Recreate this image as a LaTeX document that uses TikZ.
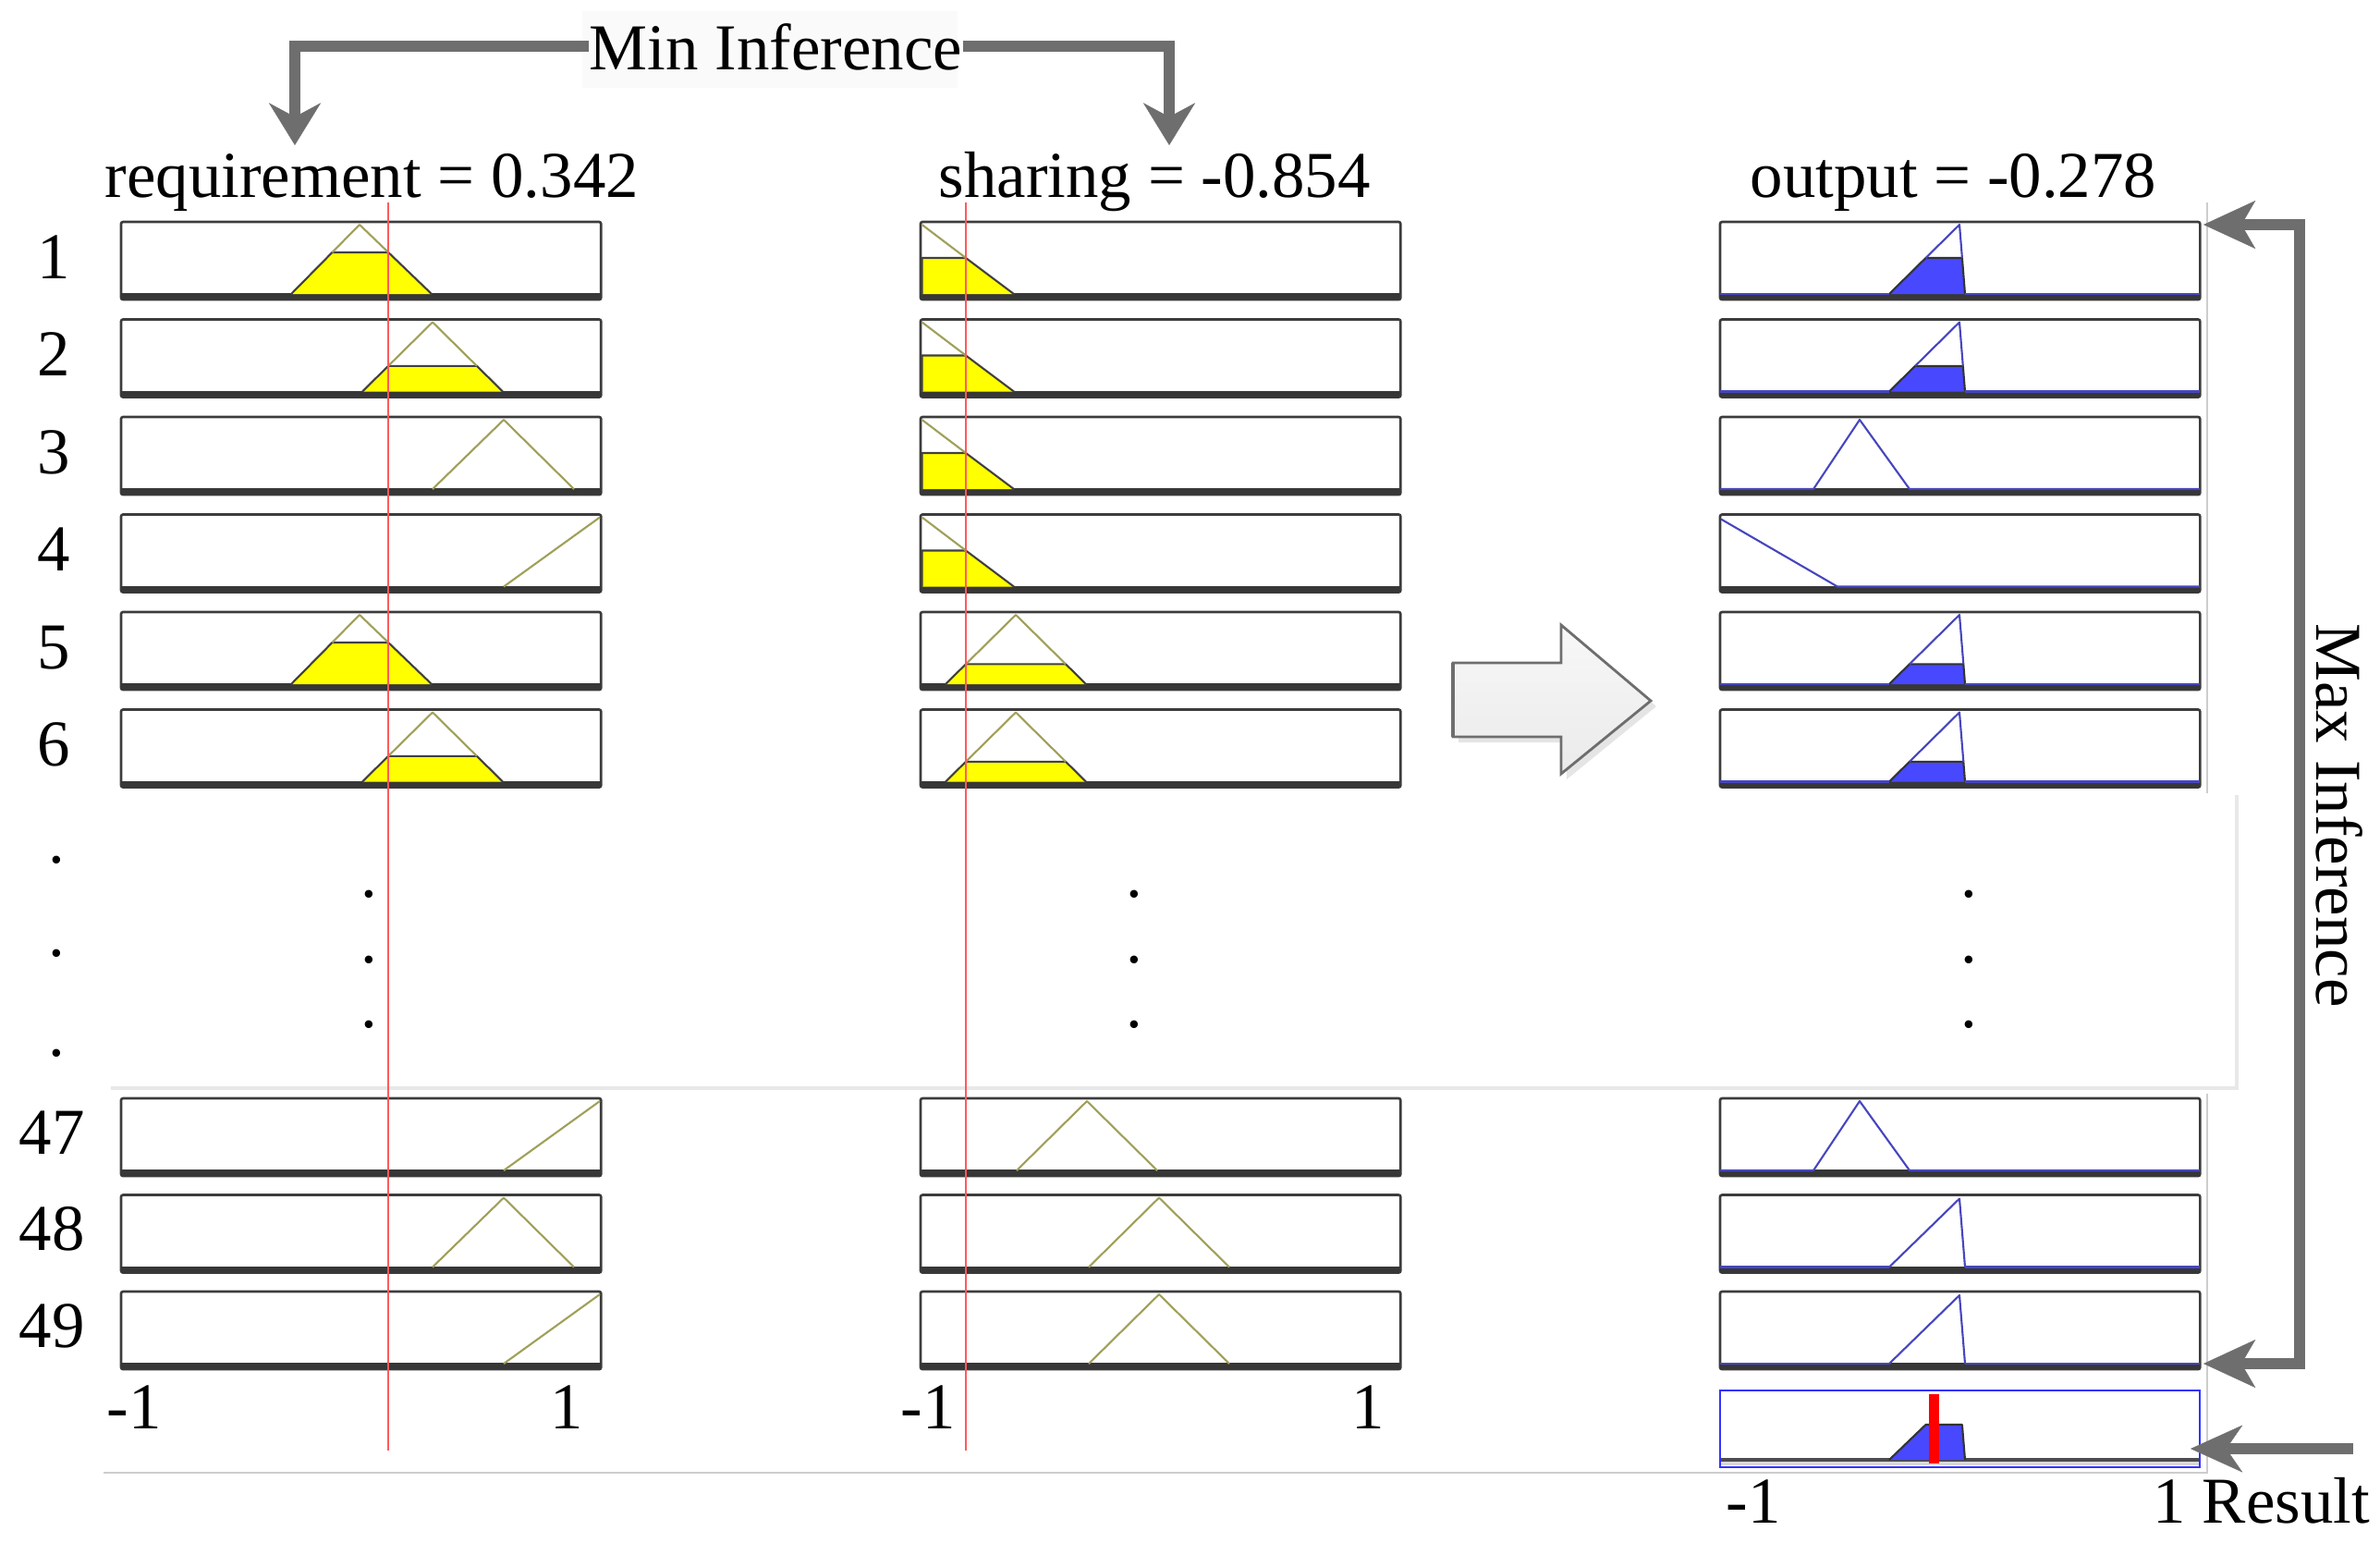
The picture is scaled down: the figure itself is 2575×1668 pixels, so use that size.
\documentclass[tikz,border=0pt]{standalone}
\usepackage{fontspec}
\setmainfont{Liberation Serif}
\usetikzlibrary{arrows.meta}
\definecolor{arrgray}{RGB}{110,110,110}
\definecolor{mfolive}{RGB}{160,160,90}
\definecolor{mfblue}{RGB}{70,70,190}
\definecolor{fillblue}{RGB}{72,72,255}
\definecolor{fillyellow}{RGB}{255,255,0}
\definecolor{redln}{RGB}{255,90,90}
\definecolor{panelgray}{RGB}{60,60,60}
\definecolor{barcol}{RGB}{55,55,55}
\definecolor{framegray}{RGB}{205,205,205}
\definecolor{framelight}{RGB}{232,232,232}
\definecolor{resblue}{RGB}{50,50,255}
\definecolor{faintbg}{RGB}{250,250,250}
\newcommand{\mfpanel}[3]{%
  \node[panel, anchor=north west] (#1) at (#2,#3) {};
  \fill[barcol] (#2,#3+77) rectangle (#2+519,#3+84);
}
\begin{document}
\begin{tikzpicture}[x=0.01cm,y=-0.01cm,
  lbl/.style={font=\fontsize{20.15}{24}\selectfont, inner sep=0pt, text=black},
  panel/.style={draw=panelgray, line width=0.75pt, fill=white, rounded corners=0.6pt,
    minimum width=5.19cm, minimum height=0.84cm, inner sep=0pt, outer sep=0pt},
  respanel/.style={draw=resblue, line width=0.6pt, fill=white,
    minimum width=5.19cm, minimum height=0.83cm, inner sep=0pt, outer sep=0pt},
  yfill/.style={fill=fillyellow, draw=black!75, line width=0.6pt, line join=round},
  bfill/.style={fill=fillblue, draw=black!80, line width=0.6pt, line join=round},
  oline/.style={draw=mfolive, line width=0.6pt, line join=round},
  bline/.style={draw=mfblue, line width=0.6pt, line join=round},
  redline/.style={draw=redln, line width=0.55pt},
  minarrow/.style={draw=arrgray, line width=3.4pt,
    -{Stealth[length=13pt,width=16pt,inset=4.3pt,line width=0.1pt]}},
  maxarrow/.style={draw=arrgray, line width=3.4pt,
    {Stealth[length=16pt,width=14.8pt,inset=4.3pt,line width=0.1pt]}-{Stealth[length=16pt,width=14.8pt,inset=4.3pt,line width=0.1pt]}},
  resarrow/.style={draw=arrgray, line width=3.4pt,
    -{Stealth[length=16pt,width=14.5pt,inset=5pt,line width=0.1pt]}},
  frame/.style={draw=framegray, line width=0.5pt},
  framethick/.style={draw=framelight, line width=1.4pt}
]
\useasboundingbox (0,0) rectangle (2575,1668);
\fill[white] (0,0) rectangle (2575,1668);

% light frame lines
\draw[frame] (2388,219) -- (2388,858);
\draw[framethick] (2420,860) -- (2420,1177) -- (120,1177);
\draw[frame] (2388,1183) -- (2388,1593) -- (112,1593);

% titles
\fill[faintbg] (630,12) rectangle (1036,95);
\node[lbl, anchor=base west] (mininf) at (637,75) {Min Inference};
\node[lbl, anchor=base west] (req) at (113,213) {requirement = 0.342};
\node[lbl, anchor=base west] (shr) at (1015,213) {sharing = -0.854};
\node[lbl, anchor=base west] (outl) at (1893,213) {output = -0.278};
\node[lbl, rotate=-90] (maxinf) at (2531,882) {Max Inference};

% row labels
\node[lbl, anchor=base] (n1) at (58,301) {1};
\node[lbl, anchor=base] (n2) at (58,406.5) {2};
\node[lbl, anchor=base] (n3) at (58,512) {3};
\node[lbl, anchor=base] (n4) at (58,617.5) {4};
\node[lbl, anchor=base] (n5) at (58,723) {5};
\node[lbl, anchor=base] (n6) at (58,828.5) {6};
\node[lbl, anchor=base] (n47) at (56,1248) {47};
\node[lbl, anchor=base] (n48) at (56,1352.5) {48};
\node[lbl, anchor=base] (n49) at (56,1457) {49};

% dots
\node[lbl, anchor=base] (dl1) at (61,933) {.};
\node[lbl, anchor=base] (dl2) at (61,1034) {.};
\node[lbl, anchor=base] (dl3) at (61,1142) {.};
\node[lbl, anchor=base] (da1) at (399,970) {.};
\node[lbl, anchor=base] (da2) at (399,1041) {.};
\node[lbl, anchor=base] (da3) at (399,1111) {.};
\node[lbl, anchor=base] (db1) at (1227,970) {.};
\node[lbl, anchor=base] (db2) at (1227,1041) {.};
\node[lbl, anchor=base] (db3) at (1227,1111) {.};
\node[lbl, anchor=base] (dc1) at (2130,970) {.};
\node[lbl, anchor=base] (dc2) at (2130,1041) {.};
\node[lbl, anchor=base] (dc3) at (2130,1111) {.};

% ---------- column 1 (requirement) ----------
\mfpanel{a1}{131}{240}
\mfpanel{a2}{131}{345.5}
\mfpanel{a3}{131}{451}
\mfpanel{a4}{131}{556.5}
\mfpanel{a5}{131}{662}
\mfpanel{a6}{131}{767.5}
\mfpanel{a47}{131}{1188}
\mfpanel{a48}{131}{1292.5}
\mfpanel{a49}{131}{1397}
\begin{scope}[shift={(131,240)}]
  \filldraw[yfill] (184,78) -- (228.4,33) -- (289.2,33) -- (336,78);
  \draw[oline] (228.4,33) -- (258,3) -- (289.2,33);
\end{scope}
\begin{scope}[shift={(131,345.5)}]
  \filldraw[yfill] (261,78) -- (289.1,50.3) -- (384.9,50.3) -- (413,78);
  \draw[oline] (289.1,50.3) -- (337,3) -- (384.9,50.3);
\end{scope}
\begin{scope}[shift={(131,451)}]
  \draw[oline] (337,78) -- (414,3) -- (490,78);
\end{scope}
\begin{scope}[shift={(131,556.5)}]
  \draw[oline] (414,78) -- (518,3);
\end{scope}
\begin{scope}[shift={(131,662)}]
  \filldraw[yfill] (184,78) -- (228.4,33) -- (289.2,33) -- (336,78);
  \draw[oline] (228.4,33) -- (258,3) -- (289.2,33);
\end{scope}
\begin{scope}[shift={(131,767.5)}]
  \filldraw[yfill] (261,78) -- (289.1,50.3) -- (384.9,50.3) -- (413,78);
  \draw[oline] (289.1,50.3) -- (337,3) -- (384.9,50.3);
\end{scope}
\begin{scope}[shift={(131,1188)}]
  \draw[oline] (414,78) -- (518,3);
\end{scope}
\begin{scope}[shift={(131,1292.5)}]
  \draw[oline] (337,78) -- (414,3) -- (490,78);
\end{scope}
\begin{scope}[shift={(131,1397)}]
  \draw[oline] (414,78) -- (518,3);
\end{scope}

% ---------- column 2 (sharing) ----------
\mfpanel{b1}{996}{240}
\mfpanel{b2}{996}{345.5}
\mfpanel{b3}{996}{451}
\mfpanel{b4}{996}{556.5}
\mfpanel{b5}{996}{662}
\mfpanel{b6}{996}{767.5}
\mfpanel{b47}{996}{1188}
\mfpanel{b48}{996}{1292.5}
\mfpanel{b49}{996}{1397}
\foreach \t in {240,345.5,451,556.5}{
  \begin{scope}[shift={(996,\t)}]
    \filldraw[yfill] (1.5,78) -- (1.5,39) -- (49,39) -- (101,78);
    \draw[oline] (1.5,3) -- (49,39);
  \end{scope}
}
\foreach \t in {662,767.5}{
  \begin{scope}[shift={(996,\t)}]
    \filldraw[yfill] (27,78) -- (49,56.3) -- (157,56.3) -- (179,78);
    \draw[oline] (49,56.3) -- (103,3) -- (157,56.3);
  \end{scope}
}
\begin{scope}[shift={(996,1188)}]
  \draw[oline] (104,78) -- (180,3) -- (256,78);
\end{scope}
\foreach \t in {1292.5,1397}{
  \begin{scope}[shift={(996,\t)}]
    \draw[oline] (182,78) -- (258,3) -- (334,78);
  \end{scope}
}

% ---------- column 3 (output) ----------
\mfpanel{o1}{1861}{240}
\mfpanel{o2}{1861}{345.5}
\mfpanel{o3}{1861}{451}
\mfpanel{o4}{1861}{556.5}
\mfpanel{o5}{1861}{662}
\mfpanel{o6}{1861}{767.5}
\mfpanel{o47}{1861}{1188}
\mfpanel{o48}{1861}{1292.5}
\mfpanel{o49}{1861}{1397}
% clipped output sets
\foreach \t/\lx/\rx/\cy in {240/222.5/261.9/39, 345.5/211.1/262.8/50.3, 662/205/263.3/56.3, 767.5/205/263.3/56.3}{
  \begin{scope}[shift={(1861,\t)}]
    \filldraw[bfill] (183,78) -- (\lx,\cy) -- (\rx,\cy) -- (265,78);
    \draw[bline] (0,78) -- (183,78);
    \draw[bline] (\lx,\cy) -- (259,3) -- (\rx,\cy);
    \draw[bline] (265,78) -- (519,78);
  \end{scope}
}
\foreach \t in {451,1188}{
  \begin{scope}[shift={(1861,\t)}]
    \draw[bline] (0,78) -- (101,78) -- (151,3) -- (205,78) -- (519,78);
  \end{scope}
}
\begin{scope}[shift={(1861,556.5)}]
  \draw[bline] (1,5) -- (127,78) -- (519,78);
\end{scope}
\foreach \t in {1292.5,1397}{
  \begin{scope}[shift={(1861,\t)}]
    \draw[bline] (0,78) -- (183,78);
    \draw[bline] (183,78) -- (259,4) -- (265,78);
    \draw[bline] (265,78) -- (519,78);
  \end{scope}
}

% result panel
\node[respanel, anchor=north west] (res) at (1861,1504) {};
\begin{scope}[shift={(1861,1504)}]
  \fill[black!15] (1,76) rectangle (518,81);
  \fill[black!70] (1,73) rectangle (518,76.5);
  \filldraw[bfill] (183,75) -- (222.5,37) -- (261.9,37) -- (265,75);
  \fill[red] (225.5,4) rectangle (236.5,79);
\end{scope}

% red input lines
\draw[redline] (420,219) -- (420,1569);
\draw[redline] (1045,219) -- (1045,1569);

% axis labels
\node[lbl, anchor=base west] (t1a) at (115,1545) {-1};
\node[lbl, anchor=base] (t1b) at (613,1545) {1};
\node[lbl, anchor=base west] (t2a) at (974,1545) {-1};
\node[lbl, anchor=base] (t2b) at (1480,1545) {1};
\node[lbl, anchor=base west] (t3a) at (1867,1647) {-1};
\node[lbl, anchor=base west] (t3b) at (2329,1647) {1 Result};

% block arrow
\fill[black!10] (1578,723) -- (1695,723) -- (1695,682) -- (1792,764) -- (1695,843) -- (1695,803) -- (1578,803) -- cycle;
\shade[top color=white!97!black, bottom color=white!92!black, draw=arrgray, line width=0.8pt, line join=miter]
  (1572,717) -- (1689,717) -- (1689,676) -- (1786,758) -- (1689,837) -- (1689,797) -- (1572,797) -- cycle;
\draw[arrgray, line width=1.2pt] (1572,717) -- (1572,797);

% Min Inference arrows
\coordinate (reqtip) at (319,157);
\coordinate (shtip) at (1265,157);
\draw[minarrow] (mininf.west) -| (reqtip);
\draw[minarrow] (mininf.east) -| (shtip);

% Max Inference arrow
\coordinate (maxtop) at (2384,243);
\coordinate (maxbot) at (2384,1475);
\draw[maxarrow] (maxtop) -- (2488,243) -- (2488,1475) -- (maxbot);

% Result arrow
\coordinate (resstart) at (2546,1567);
\coordinate (restip) at (2370,1567);
\draw[resarrow] (resstart) -- (restip);
\end{tikzpicture}
\end{document}
